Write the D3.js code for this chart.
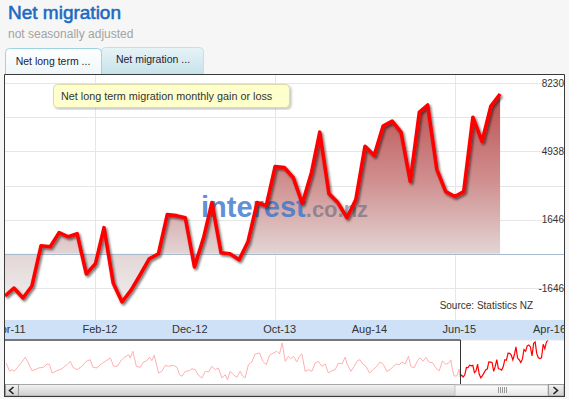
<!DOCTYPE html>
<html>
<head>
<meta charset="utf-8">
<script src="https://cdn.jsdelivr.net/npm/d3@7"></script>
<style>
  body { margin: 0; background: #f6f6f6; }
  svg { display: block; font-family: 'Liberation Sans', Arial, sans-serif; }
</style>
</head>
<body>
<svg id="chart" width="569" height="399"></svg>
<script>
// monthly net long term migration, first point Apr 2011
const firstMonth = '2011-04';
const migration = [-2030, -1650, -2130, -1550, 390, 340, 1020, 820, 970, -970,
  -480, 1260, -1400, -2320, -1740, -1020, -240, 0, 1890, 1840,
  1740, -630, 780, 2470, 50, 0, -290, 580, 2470, 2320,
  4210, 4160, 3680, 2420, 3920, 5860, 2900, 2470, 1740, 2610,
  5180, 4740, 6150, 6390, 5860, 3490, 6830, 7170, 4070, 3000,
  2760, 3000, 6580, 5420, 7120, 7700];

const tickLabels = ['Apr-11', 'Feb-12', 'Dec-12', 'Oct-13', 'Aug-14', 'Jun-15', 'Apr-16'];
const yTicks = [-1646, 1646, 4938, 8230];
const yGrid = [-1646, 0, 1646, 3292, 4938, 6584, 8230];

// navigator history before the selected window (decimal years)
const historyYears = [1987.60, 1987.78, 1987.90, 1988.02, 1988.24, 1988.42, 1988.59, 1988.71, 1988.94, 1989.11,
  1989.29, 1989.55, 1989.73, 1989.86, 1989.99, 1990.25, 1990.51, 1990.77, 1990.94, 1991.08,
  1991.29, 1991.55, 1991.77, 1991.98, 1992.12, 1992.33, 1992.50, 1992.76, 1993.03, 1993.20,
  1993.38, 1993.58, 1993.75, 1993.98, 1994.06, 1994.20, 1994.38, 1994.58, 1994.76, 1994.93,
  1995.07, 1995.19, 1995.31, 1995.54, 1995.71, 1995.89, 1996.06, 1996.32, 1996.50, 1996.63,
  1996.76, 1996.93, 1997.15, 1997.28, 1997.45, 1997.62, 1997.80, 1997.97, 1998.14, 1998.32,
  1998.49, 1998.66, 1998.84, 1999.01, 1999.13, 1999.27, 1999.44, 1999.62, 1999.79, 1999.93,
  2000.05, 2000.22, 2000.40, 2000.57, 2000.80, 2000.97, 2001.15, 2001.32, 2001.53, 2001.70,
  2001.84, 2001.98, 2002.14, 2002.31, 2002.43, 2002.57, 2002.74, 2002.88, 2003.01, 2003.18,
  2003.35, 2003.53, 2003.70, 2003.87, 2004.05, 2004.22, 2004.39, 2004.57, 2004.74, 2004.91,
  2005.09, 2005.26, 2005.38, 2005.56, 2005.73, 2005.90, 2006.04, 2006.18, 2006.35, 2006.53,
  2006.73, 2006.91, 2007.08, 2007.26, 2007.43, 2007.60, 2007.78, 2007.95, 2008.09, 2008.21,
  2008.39, 2008.56, 2008.68, 2008.85, 2009.03, 2009.17, 2009.31, 2009.48, 2009.62, 2009.81,
  2009.98, 2010.16, 2010.33, 2010.51, 2010.68, 2010.77, 2010.85, 2010.94, 2011.08, 2011.20];
const historyValues = [1600, -610, -190, -610, 720, 1860, 3110, 2050, -450, -190,
  270, 450, 1330, 1140, -1060, -450, 80, 1140, 2050, 450,
  -190, 720, 2050, 2470, 450, 270, 1140, 2050, 2930, 720,
  720, 2210, 3110, 3800, 2930, 4710, 720, 450, 1860, 2210,
  3110, 2210, 3640, -1060, -610, 980, 720, 980, 450, -1520,
  -1940, -610, -450, 80, -190, -1680, -2390, -610, -800, 720,
  -190, 270, -2390, -1520, -2850, -610, -1520, -2210, -610, -1940,
  -2390, 1140, 1860, 3990, 4260, 2050, 1140, 3640, 4260, 4710,
  3990, 6920, 2050, 3380, 2740, 3380, 1860, 3380, 3990, -610,
  -190, -610, 1600, 2050, 720, 1330, -1060, -450, -190, 1600,
  1330, 3110, 1140, -610, 720, 2210, 2470, 1330, 720, -1060,
  -190, 720, 1860, 1140, -610, -190, 720, 1330, 1140, 1860,
  1330, 3380, 720, 270, 2210, 2930, 2050, 3110, 1860, 1680,
  350, -530, 2130, 1250, 1680, 2390, -80, -1860, -1860, -80];

const parseMonth = d3.timeParse('%Y-%m');
const parseTick = d3.timeParse('%b-%y');
const start = parseMonth(firstMonth);
const data = migration.map((v, i) => ({ date: d3.timeMonth.offset(start, i), value: v }));
const yearToDate = yr => {
  const y0 = Math.floor(yr);
  const a = new Date(y0, 0, 1), b = new Date(y0 + 1, 0, 1);
  return new Date(+a + (yr - y0) * (b - a));
};
const history = historyYears.map((yr, i) => ({ date: yearToDate(yr), value: historyValues[i] }));

const svg = d3.select('#chart');
const defs = svg.append('defs');

// header
svg.append('text').attr('x', 8).attr('y', 19)
  .attr('font-size', 19).attr('fill', '#1a6ac2')
  .attr('stroke', '#1a6ac2').attr('stroke-width', 0.55)
  .text('Net migration');
svg.append('text').attr('x', 8).attr('y', 38)
  .attr('font-size', 12).attr('fill', '#a3a3a3')
  .text('not seasonally adjusted');

// tabs
const tabA = defs.append('linearGradient').attr('id', 'tabA').attr('x1', 0).attr('x2', 0).attr('y1', 0).attr('y2', 1);
tabA.append('stop').attr('offset', 0).attr('stop-color', '#ffffff');
tabA.append('stop').attr('offset', 1).attr('stop-color', '#eef7fa');
const tabB = defs.append('linearGradient').attr('id', 'tabB').attr('x1', 0).attr('x2', 0).attr('y1', 0).attr('y2', 1);
tabB.append('stop').attr('offset', 0).attr('stop-color', '#e8f4f7');
tabB.append('stop').attr('offset', 1).attr('stop-color', '#c6e2ea');

const tabPath = (x0, x1, y0, y1) => `M${x0},${y1}V${y0 + 4}Q${x0},${y0} ${x0 + 4},${y0}H${x1 - 4}Q${x1},${y0} ${x1},${y0 + 4}V${y1}`;
svg.append('path').attr('d', tabPath(101.5, 203.5, 47.5, 74)).attr('fill', 'url(#tabB)').attr('stroke', '#c3dfe7');
svg.append('path').attr('d', tabPath(5.5, 101.5, 48.5, 74)).attr('fill', 'url(#tabA)').attr('stroke', '#9fd2e2');
svg.append('text').attr('x', 53).attr('y', 65).attr('text-anchor', 'middle')
  .attr('font-size', 10.5).attr('fill', '#223').text('Net long term ...');
svg.append('text').attr('x', 153).attr('y', 63).attr('text-anchor', 'middle')
  .attr('font-size', 10.5).attr('fill', '#223').text('Net migration ...');

// scales
const x = d3.scaleTime()
  .domain([parseTick(tickLabels[0]), parseTick(tickLabels[tickLabels.length - 1])])
  .range([5, 545]);
const y = d3.scaleLinear().domain([-1646, 8230]).range([288, 83]);

// plot background
svg.append('rect').attr('x', 5).attr('y', 74).attr('width', 559).attr('height', 323).attr('fill', '#fff');

defs.append('clipPath').attr('id', 'plotClip')
  .append('rect').attr('x', 5).attr('y', 75).attr('width', 559).attr('height', 245);

const plot = svg.append('g').attr('clip-path', 'url(#plotClip)');

// gridlines
plot.selectAll('.hgrid').data(yGrid.filter(d => d !== 0)).join('line')
  .attr('class', 'hgrid')
  .attr('x1', 5).attr('x2', 564)
  .attr('y1', d => Math.round(y(d)) + 0.5).attr('y2', d => Math.round(y(d)) + 0.5)
  .attr('stroke', '#e6e6e6');
plot.selectAll('.vgrid').data(tickLabels.filter((d, i) => i % 2 === 1)).join('line')
  .attr('class', 'vgrid')
  .attr('x1', d => Math.round(x(parseTick(d))) + 0.5).attr('x2', d => Math.round(x(parseTick(d))) + 0.5)
  .attr('y1', 75).attr('y2', 320)
  .attr('stroke', '#e6e6e6');

// area with gradient
const grad = defs.append('linearGradient').attr('id', 'areaFill')
  .attr('gradientUnits', 'userSpaceOnUse')
  .attr('x1', 0).attr('x2', 0).attr('y1', y(8230)).attr('y2', y(-2400));
grad.append('stop').attr('offset', 0).attr('stop-color', '#b94848');
grad.append('stop').attr('offset', 0.45).attr('stop-color', '#d09090');
grad.append('stop').attr('offset', 0.78).attr('stop-color', '#e3d6d6');
grad.append('stop').attr('offset', 1).attr('stop-color', '#f1eded');

const area = d3.area()
  .x(d => x(d.date))
  .y0(y(0))
  .y1(d => y(d.value));

plot.append('path')
  .datum(data)
  .attr('fill', 'url(#areaFill)')
  .attr('d', area);

// zero line
plot.append('line')
  .attr('x1', 5).attr('x2', 564)
  .attr('y1', Math.round(y(0)) + 0.5).attr('y2', Math.round(y(0)) + 0.5)
  .attr('stroke', '#a9bccd');

// watermark
const wm = plot.append('text').attr('x', 201).attr('y', 217);
wm.append('tspan').attr('font-size', 29).attr('font-weight', 'bold')
  .attr('fill', '#3a78cc').attr('fill-opacity', 0.82).text('interest');
wm.append('tspan').attr('font-size', 22).attr('font-weight', 'bold')
  .attr('fill', '#66667a').attr('fill-opacity', 0.6).text('.co.nz');

// line with shadow
const shadow = defs.append('filter').attr('id', 'shadow')
  .attr('x', '-5%').attr('y', '-5%').attr('width', '110%').attr('height', '115%');
shadow.append('feDropShadow').attr('dx', 1.5).attr('dy', 1.8).attr('stdDeviation', 0.9)
  .attr('flood-color', '#000').attr('flood-opacity', 0.55);

const valueline = d3.line()
  .x(d => x(d.date))
  .y(d => y(d.value));

plot.append('path')
  .datum(data)
  .attr('fill', 'none')
  .attr('stroke', '#ff0000')
  .attr('stroke-width', 3.6)
  .attr('stroke-linejoin', 'round')
  .attr('filter', 'url(#shadow)')
  .attr('d', valueline);

// y labels inside right edge
svg.selectAll('.ylab').data(yTicks).join('text')
  .attr('class', 'ylab')
  .attr('x', 564).attr('y', d => y(d) + 3.5)
  .attr('text-anchor', 'end')
  .attr('font-size', 10).attr('fill', '#333')
  .text(d => d);

svg.append('text').attr('x', 533).attr('y', 309).attr('text-anchor', 'end')
  .attr('font-size', 10).attr('fill', '#333').text('Source: Statistics NZ');

// legend note
const noteShadow = defs.append('filter').attr('id', 'noteShadow');
noteShadow.append('feDropShadow').attr('dx', 1.5).attr('dy', 1.5).attr('stdDeviation', 1)
  .attr('flood-color', '#888').attr('flood-opacity', 0.5);
svg.append('rect').attr('x', 53.5).attr('y', 84.5).attr('width', 236).attr('height', 23).attr('rx', 4)
  .attr('fill', '#ffffcc').attr('stroke', '#dcdca8').attr('filter', 'url(#noteShadow)');
svg.append('text').attr('x', 61).attr('y', 100)
  .attr('font-size', 10.8).attr('fill', '#333')
  .text('Net long term migration monthly gain or loss');

// x axis band
svg.append('rect').attr('x', 5).attr('y', 320).attr('width', 559).attr('height', 20).attr('fill', '#cfe1f6');
defs.append('clipPath').attr('id', 'axisClip')
  .append('rect').attr('x', 5).attr('y', 318).attr('width', 559).attr('height', 24);
const xAxis = d3.axisBottom(x)
  .tickValues(tickLabels.map(parseTick))
  .tickFormat(d3.timeFormat('%b-%y'))
  .tickSize(0);
const ax = svg.append('g')
  .attr('clip-path', 'url(#axisClip)')
  .append('g')
  .attr('transform', 'translate(0,320)')
  .call(xAxis);
ax.select('.domain').remove();
ax.selectAll('text')
  .attr('dx', 4).attr('dy', 10)
  .attr('font-size', 11).attr('fill', '#333')
  .attr('font-family', "'Liberation Sans', Arial, sans-serif");

// navigator
const navX = d3.scaleTime()
  .domain(x.domain())
  .range([460, 556]);
const navY = d3.scaleLinear().domain([0, 8000]).range([369, 338.9]);
const navLine = d3.line()
  .x(d => navX(d.date))
  .y(d => navY(d.value));

svg.append('path')
  .datum(history.concat([data[0]]))
  .attr('fill', 'none')
  .attr('stroke', '#ffb0b0')
  .attr('stroke-width', 1)
  .attr('d', navLine);
svg.append('path')
  .datum(data)
  .attr('fill', 'none')
  .attr('stroke', '#ff0000')
  .attr('stroke-width', 1.2)
  .attr('d', navLine);

const selX = Math.round(navX(x.domain()[0])) + 0.5;
svg.append('line').attr('x1', 5).attr('x2', selX).attr('y1', 340).attr('y2', 340)
  .attr('stroke', '#777').attr('stroke-width', 2);
svg.append('line').attr('x1', selX + 0.5).attr('x2', 564).attr('y1', 340).attr('y2', 340)
  .attr('stroke', '#e4e4e4').attr('stroke-width', 1);
svg.append('line').attr('x1', selX).attr('x2', selX).attr('y1', 340).attr('y2', 384)
  .attr('stroke', '#333');

// scrollbar
const track = defs.append('linearGradient').attr('id', 'track').attr('x1', 0).attr('x2', 0).attr('y1', 0).attr('y2', 1);
track.append('stop').attr('offset', 0).attr('stop-color', '#f2f2f2');
track.append('stop').attr('offset', 1).attr('stop-color', '#cfcfcf');
const thumb = defs.append('linearGradient').attr('id', 'thumb').attr('x1', 0).attr('x2', 0).attr('y1', 0).attr('y2', 1);
thumb.append('stop').attr('offset', 0).attr('stop-color', '#fdfdfd');
thumb.append('stop').attr('offset', 1).attr('stop-color', '#e6e6e6');

svg.append('rect').attr('x', 5).attr('y', 384.5).attr('width', 559).attr('height', 11.5)
  .attr('fill', 'url(#track)').attr('stroke', '#a8a8a8');
const thumbX0 = navX(x.domain()[0]) - 5;
const thumbX1 = navX(data[data.length - 1].date);
svg.append('rect').attr('x', thumbX0).attr('y', 385).attr('width', thumbX1 - thumbX0).attr('height', 11)
  .attr('fill', 'url(#thumb)').attr('stroke', '#c4c4c4');
svg.selectAll('.grip').data(d3.range(5)).join('line')
  .attr('class', 'grip')
  .attr('x1', d => Math.round((thumbX0 + thumbX1) / 2) - 4 + d * 2 + 0.5)
  .attr('x2', d => Math.round((thumbX0 + thumbX1) / 2) - 4 + d * 2 + 0.5)
  .attr('y1', 387).attr('y2', 393)
  .attr('stroke', '#999');

svg.append('rect').attr('x', 5.5).attr('y', 384.5).attr('width', 13).attr('height', 11.5)
  .attr('fill', 'url(#track)').attr('stroke', '#999');
svg.append('rect').attr('x', thumbX1 + 0.5).attr('y', 384.5).attr('width', 564 - thumbX1 - 0.5).attr('height', 11.5)
  .attr('fill', 'url(#track)').attr('stroke', '#999');
svg.append('path').attr('d', 'M13.5,387L9.5,390.5L13.5,394')
  .attr('fill', 'none').attr('stroke', '#222').attr('stroke-width', 1.6);
svg.append('path').attr('d', `M${thumbX1 + 5.5},387L${thumbX1 + 9.5},390.5L${thumbX1 + 5.5},394`)
  .attr('fill', 'none').attr('stroke', '#222').attr('stroke-width', 1.6);

// outer frame of chart
svg.append('path')
  .attr('d', 'M4.5,397V74.5H564.5V397')
  .attr('fill', 'none').attr('stroke', '#3a3a3a');
svg.append('line').attr('x1', 4).attr('x2', 565).attr('y1', 396.5).attr('y2', 396.5)
  .attr('stroke', '#3a3a3a');
</script>
</body>
</html>
